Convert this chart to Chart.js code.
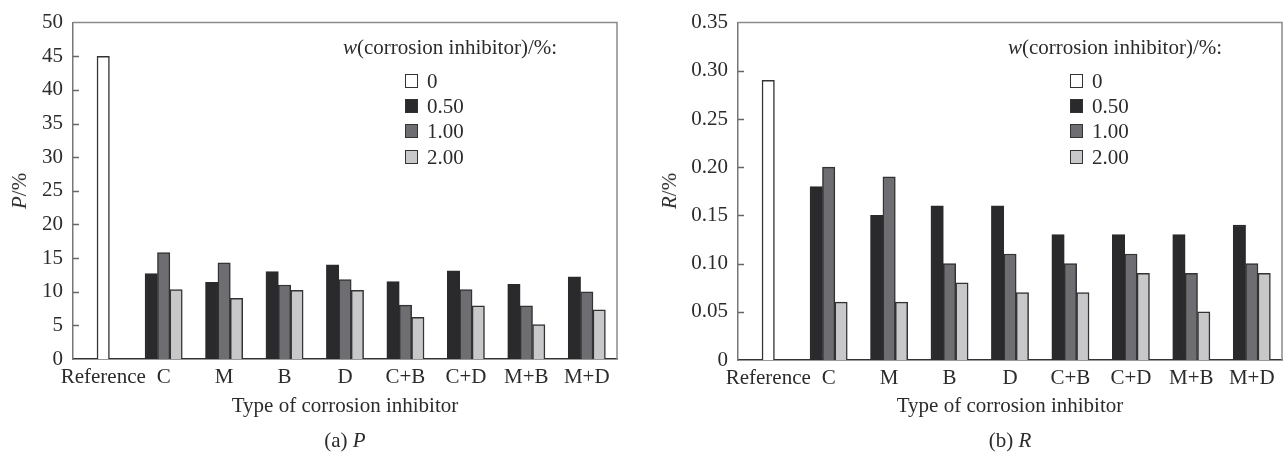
<!DOCTYPE html>
<html>
<head>
<meta charset="utf-8">
<script src="https://cdn.jsdelivr.net/npm/chart.js@4.4.1/dist/chart.umd.min.js"></script>
<style>
html, body { margin: 0; padding: 0; background: #fff; }
#wrap { position: relative; width: 1285px; height: 454px; font-family: "Liberation Serif", "Times New Roman", serif; color: #2b2b2b; }
.panel { position: absolute; top: 0; height: 454px; }
.txt { position: absolute; font-size: 21px; line-height: 24px; white-space: nowrap; }
.ytitle { transform: translate(-50%, -50%) rotate(-90deg); }
.caption { transform: translate(-50%, -50%); }
.lbox { position: absolute; box-sizing: border-box; width: 13px; height: 14px; border: 1.5px solid #333; }
</style>
</head>
<body>
<div id="wrap">
  <div class="panel" id="panelP" style="left:0;width:640px">
    <canvas id="chartP"></canvas>
    <div class="txt ytitle" style="left:19px;top:191px"><i>P</i>/%</div>
    <div class="txt caption" style="left:345px;top:440px">(a) <i>P</i></div>
  </div>
  <div class="panel" id="panelR" style="left:640px;width:645px">
    <canvas id="chartR"></canvas>
    <div class="txt ytitle" style="left:29px;top:191px"><i>R</i>/%</div>
    <div class="txt caption" style="left:370px;top:440px">(b) <i>R</i></div>
  </div>
</div>
<script>
// categories and series
const categories = ['Reference', 'C', 'M', 'B', 'D', 'C+B', 'C+D', 'M+B', 'M+D'];
const seriesNames = ['0', '0.50', '1.00', '2.00'];
const seriesColors = ['#ffffff', '#2a292b', '#6e6e72', '#c8c8cb'];

// (a) P, %
const pW0   = [45, null, null, null, null, null, null, null, null];
const pW050 = [null, 12.7, 11.4, 13.0, 14.0, 11.5, 13.1, 11.1, 12.2];
const pW100 = [null, 15.8, 14.3, 11.0, 11.8, 8.0, 10.3, 7.9, 10.0];
const pW200 = [null, 10.3, 9.0, 10.2, 10.2, 6.2, 7.9, 5.1, 7.3];

// (b) R, %
const rW0   = [0.29, null, null, null, null, null, null, null, null];
const rW050 = [null, 0.18, 0.15, 0.16, 0.16, 0.13, 0.13, 0.13, 0.14];
const rW100 = [null, 0.20, 0.19, 0.10, 0.11, 0.10, 0.11, 0.09, 0.10];
const rW200 = [null, 0.06, 0.06, 0.08, 0.07, 0.07, 0.09, 0.05, 0.09];

// y axis ticks
const pTicks = [0, 5, 10, 15, 20, 25, 30, 35, 40, 45, 50];
const rTicks = [0, 0.05, 0.10, 0.15, 0.20, 0.25, 0.30, 0.35];

Chart.defaults.font.family = '"Liberation Serif", "Times New Roman", serif';
Chart.defaults.font.size = 21;
Chart.defaults.color = '#2b2b2b';

// top/right frame and inward ticks on the y axis
const framePlugin = {
    id: 'frame',
    afterDraw(chart) {
        const { ctx, chartArea: a, scales: { y } } = chart;
        ctx.save();
        ctx.lineWidth = 1.5;
        ctx.strokeStyle = '#8a8a8a';
        ctx.beginPath();
        ctx.moveTo(a.left, a.top);
        ctx.lineTo(a.right, a.top);
        ctx.lineTo(a.right, a.bottom);
        ctx.stroke();
        ctx.strokeStyle = '#666';
        y.ticks.forEach(t => {
            if (t.value <= y.min || t.value >= y.max) return;
            const py = Math.round(y.getPixelForValue(t.value)) + 0.5;
            ctx.beginPath();
            ctx.moveTo(a.left, py);
            ctx.lineTo(a.left + 6, py);
            ctx.stroke();
        });
        ctx.restore();
    }
};

function makeChart(id, series, ticks, yWidth, padRight, xHeight, fmt) {
    const ctx = document.getElementById(id).getContext('2d');
    return new Chart(ctx, {
        type: 'bar',
        data: {
            labels: categories,
            datasets: series.map((vals, i) => ({
                label: seriesNames[i],
                data: vals,
                backgroundColor: seriesColors[i],
                borderColor: i === 1 ? '#2a292b' : '#333',
                borderWidth: 1.5
            }))
        },
        options: {
            responsive: true,
            maintainAspectRatio: false,
            animation: false,
            datasets: { bar: { skipNull: true, barThickness: 12.4 } },
            layout: { padding: { top: 19, right: padRight, left: 0, bottom: 0 } },
            plugins: { legend: { display: false }, tooltip: { enabled: false } },
            scales: {
                x: {
                    grid: { display: false, drawTicks: false },
                    border: { color: '#333', width: 1.5 },
                    ticks: { padding: 6, maxRotation: 0, autoSkip: false },
                    title: { display: true, text: 'Type of corrosion inhibitor', padding: { top: 0, bottom: 35 } },
                    afterFit: s => { s.height = xHeight; }
                },
                y: {
                    min: ticks[0],
                    max: ticks[ticks.length - 1],
                    grid: { display: false, drawTicks: false },
                    border: { color: '#777', width: 1.5 },
                    ticks: { stepSize: ticks[1] - ticks[0], padding: 10, callback: fmt },
                    afterFit: s => { s.width = yWidth; }
                }
            }
        },
        plugins: [framePlugin]
    });
}

// legend built from the datasets, placed inside the plot area
function buildLegend(chart, panel) {
    const a = chart.chartArea;
    const title = document.createElement('div');
    title.className = 'txt';
    title.style.left = (a.left + 270) + 'px';
    title.style.top = '35px';
    title.innerHTML = '<i>w</i>(corrosion inhibitor)/%:';
    panel.appendChild(title);
    chart.data.datasets.forEach((ds, i) => {
        const cy = 81 + i * 25.2;
        const box = document.createElement('div');
        box.className = 'lbox';
        box.style.left = (a.left + 332) + 'px';
        box.style.top = (cy - 7) + 'px';
        box.style.background = ds.backgroundColor;
        panel.appendChild(box);
        const t = document.createElement('div');
        t.className = 'txt';
        t.style.left = (a.left + 354) + 'px';
        t.style.top = (cy - 12) + 'px';
        t.textContent = ds.label;
        panel.appendChild(t);
    });
}

const chartP = makeChart('chartP', [pW0, pW050, pW100, pW200], pTicks, 73, 23, 95,
    v => String(v));
const chartR = makeChart('chartR', [rW0, rW050, rW100, rW200], rTicks, 98, 3, 94,
    v => (Math.abs(v) < 1e-9 ? '0' : v.toFixed(2)));

buildLegend(chartP, document.getElementById('panelP'));
buildLegend(chartR, document.getElementById('panelR'));
</script>
</body>
</html>
